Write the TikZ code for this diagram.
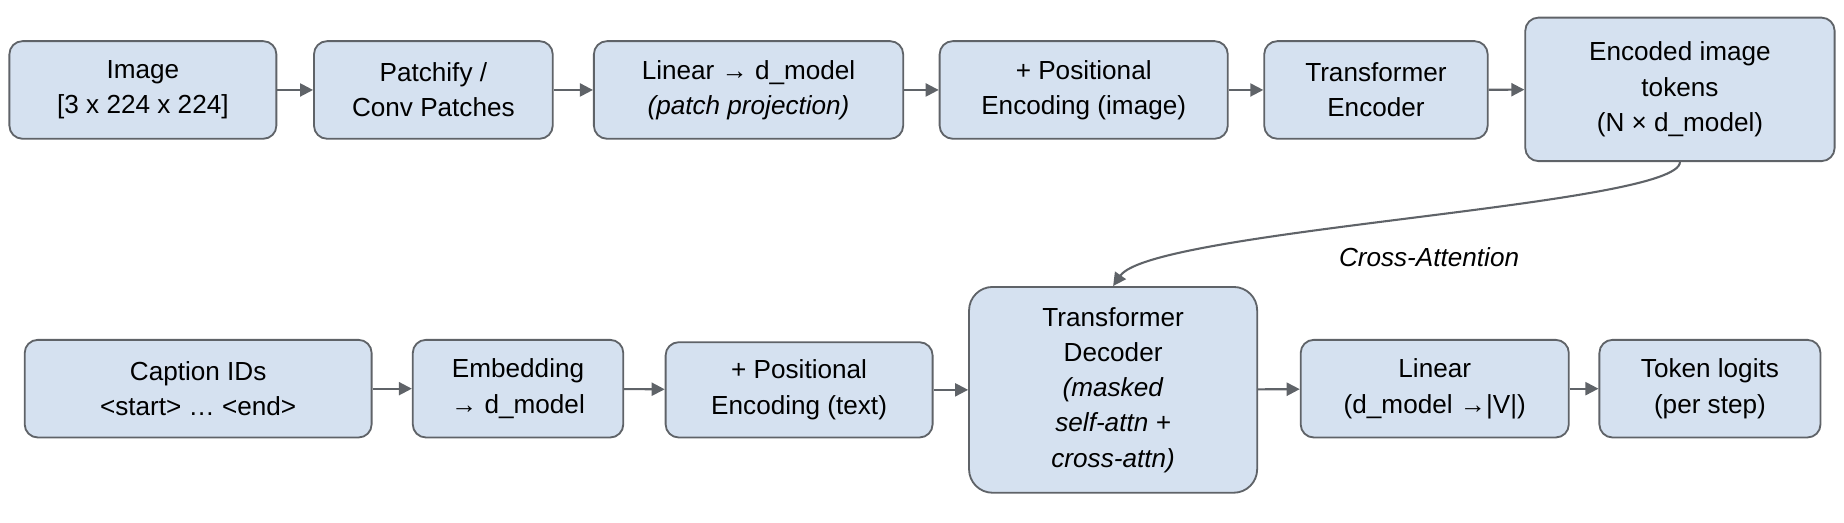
\documentclass[tikz,border=0pt]{standalone}
\usepackage{fontspec}
\setmainfont{Liberation Sans}
\usetikzlibrary{arrows.meta}
\definecolor{boxfill}{HTML}{D5E1F0}
\definecolor{boxline}{HTML}{5F6368}

\begin{document}
\begin{tikzpicture}[
    x=0.45pt, y=-0.45pt,
    blk/.style={draw=boxline, fill=boxfill, line width=0.7pt, rounded corners=5pt,
      align=center, inner sep=0pt, font=\fontsize{10}{13.5}\selectfont},
    flow/.style={draw=boxline, line width=0.8pt, -{Triangle[length=5pt,width=5pt]}}
    ]
    \useasboundingbox (0,0) rectangle (1568,444);
    % encoder row
    \node[blk, minimum width=227*0.45pt, minimum height=83*0.45pt] (img) at (121.5,76.5) {Image\\{[}3 x 224 x 224{]}};
    \node[blk, minimum width=203*0.45pt, minimum height=83*0.45pt] (patch) at (368.5,76.5) {Patchify /\\Conv Patches};
    \node[blk, minimum width=263*0.45pt, minimum height=83*0.45pt] (lin) at (636.5,76.5) {Linear → d\_model\\\textit{(patch projection)}};
    \node[blk, minimum width=245*0.45pt, minimum height=83*0.45pt] (posimg) at (921.5,76.5) {+ Positional\\Encoding (image)};
    \node[blk, minimum width=190*0.45pt, minimum height=83*0.45pt] (enc) at (1170,76.5) {Transformer\\Encoder};
    \node[blk, minimum width=263*0.45pt, minimum height=122*0.45pt] (tok) at (1428.5,76) {Encoded image\\tokens\\(N × d\_model)};
    % decoder row
    \node[blk, minimum width=295*0.45pt, minimum height=83*0.45pt] (cap) at (168.5,330.5) {Caption IDs\\<start> … <end>};
    \node[blk, minimum width=179*0.45pt, minimum height=83*0.45pt] (emb) at (440.5,330.5) {Embedding\\→ d\_model};
    \node[blk, minimum width=227*0.45pt, minimum height=81*0.45pt] (postxt) at (679.5,331.5) {+ Positional\\Encoding (text)};
    \node[blk, minimum width=245*0.45pt, minimum height=175*0.45pt, rounded corners=9pt] (dec) at (946.5,331.5) {Transformer\\Decoder\\\textit{(masked}\\\textit{self-attn +}\\\textit{cross-attn)}};
    \node[blk, minimum width=228*0.45pt, minimum height=83*0.45pt] (out) at (1220,330.5) {Linear\\(d\_model →|V|)};
    \node[blk, minimum width=188*0.45pt, minimum height=83*0.45pt] (logit) at (1454,330.5) {Token logits\\(per step)};
    % connectors
    \draw[flow] (img) -- (patch);
    \draw[flow] (patch) -- (lin);
    \draw[flow] (lin) -- (posimg);
    \draw[flow] (posimg) -- (enc);
    \draw[flow] (enc) -- (tok);
    \draw[flow] (cap) -- (emb);
    \draw[flow] (emb) -- (postxt);
    \draw[flow] (postxt) -- (dec);
    \draw[flow] (dec) -- (out);
    \draw[flow] (out) -- (logit);
    \draw[flow] (tok.south) .. controls (1428,175) and (980,195) .. (dec.north)
      node[pos=0.62, below right, font=\fontsize{10}{12}\selectfont\itshape, xshift=6pt, yshift=-2pt] {Cross-Attention};
\end{tikzpicture}
\end{document}
